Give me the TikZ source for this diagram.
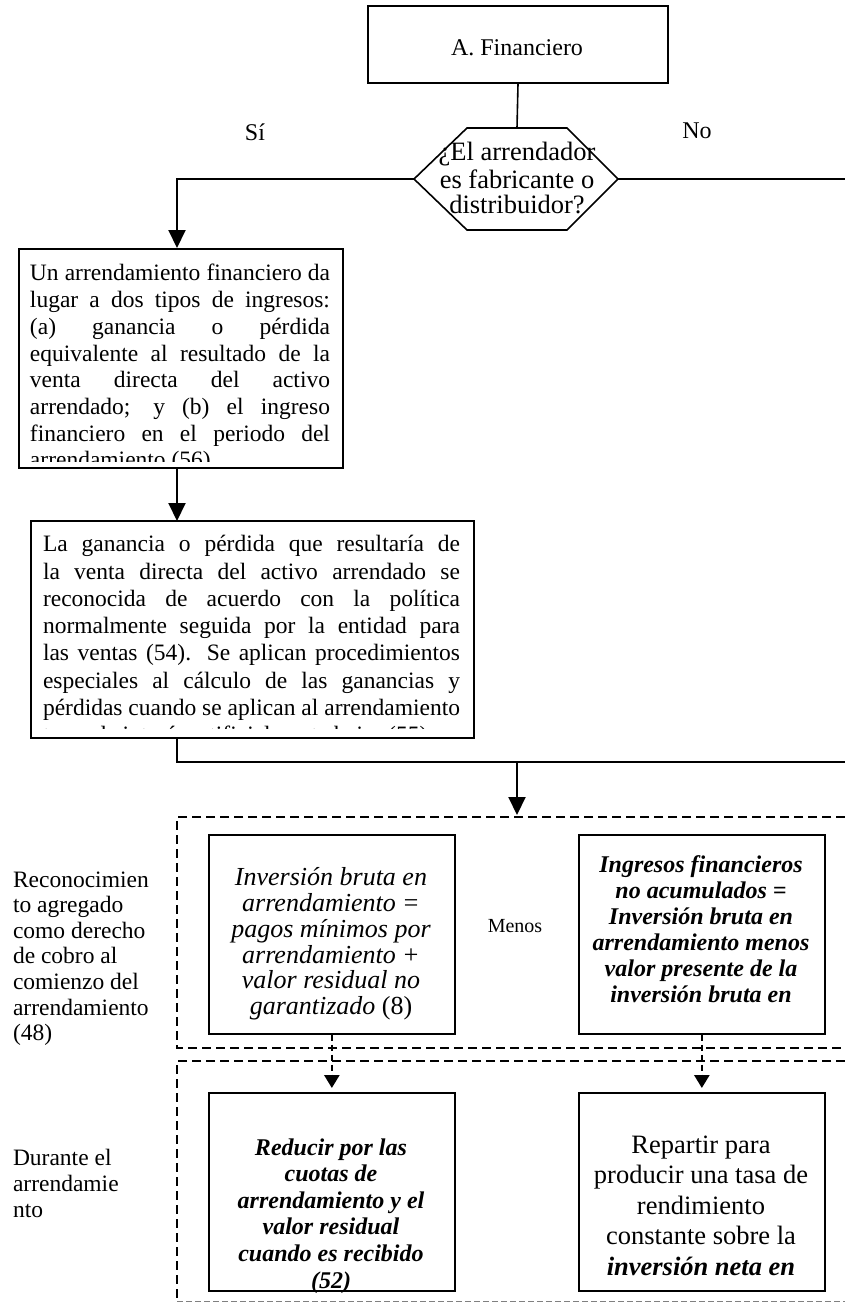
\documentclass[tikz,border=0pt]{standalone}
\usepackage{fontspec}
\setmainfont{Liberation Serif}
\usetikzlibrary{arrows.meta}
\newcommand{\fsz}[2]{\fontsize{#1}{#2}\selectfont}
\newlength{\jw}
\newcommand{\jl}[1]{\makebox[\jw][s]{#1}}
\tikzset{
  box/.style={draw, line width=2pt, inner sep=0pt, anchor=north west},
  lbox/.style={draw, line width=1.7pt, inner sep=0pt, anchor=north west},
  txt/.style={inner sep=0pt, outer sep=0pt},
  conn/.style={line width=2pt},
  thinl/.style={line width=1.6pt},
  arr/.style={line width=2pt, -{Triangle[length=18pt,width=17pt]}},
  dline/.style={line width=2.6pt, dash pattern=on 9pt off 5pt},
  darr/.style={line width=2.6pt, dash pattern=on 6pt off 4pt, -{Triangle[length=13pt,width=15pt]}},
}
\begin{document}
\begin{tikzpicture}[x=1pt,y=-1pt]
\path[use as bounding box] (0,0) rectangle (845,1302);
% coordinates
\coordinate (lx) at (177,0);
\coordinate (hexT) at (517,128);
\coordinate (hexL) at (414,179);
\coordinate (hexR) at (618,179);
\coordinate (edgeR) at (845,179);
\coordinate (j1) at (177,762);
\coordinate (j2) at (517,762);
\coordinate (je) at (845,762);
\coordinate (r1top) at (517,817);

% top box
\node[box, minimum width=300pt, minimum height=77pt] (fin) at (367,5) {};
\node[txt, anchor=base, font=\fsz{24}{26}] (fint) at (517,55) {A. Financiero};
\draw[thinl] (fin.south) -- (hexT);

% hexagon
\draw[thinl] (467,128) -- (567,128) -- (hexR) -- (567,230) -- (467,230) -- (hexL) -- cycle;
\node[txt, anchor=north, align=center, font=\fsz{26.5}{25}] (q) at (517,142.5)
  {\strut¿El arrendador\\es fabricante o\\distribuidor?};
\node[txt, anchor=base, font=\fsz{24}{26}] (si) at (255,140) {Sí};
\node[txt, anchor=base, font=\fsz{24}{26}] (no) at (697,138) {No};
\draw[thinl] (hexR) -- (edgeR);

% box 1
\node[box, minimum width=324pt, minimum height=219pt] (b1) at (18,248) {};
\begin{scope}
\clip (18,248) rectangle (342,461);
\setlength{\jw}{300pt}
\node[txt, anchor=north west, align=left, font=\fsz{23.5}{26.7}] (b1t) at (30,262.3)
  {\strut\jl{Un arrendamiento financiero da}\\
   \jl{lugar a dos tipos de ingresos:}\\
   \jl{(a) ganancia o pérdida}\\
   \jl{equivalente al resultado de la}\\
   \jl{venta directa del activo}\\
   \jl{arrendado; y (b) el ingreso}\\
   \jl{financiero en el periodo del}\\
   arrendamiento (56).};
\end{scope}

% box 2
\node[box, minimum width=443pt, minimum height=217pt] (b2) at (30,520) {};
\begin{scope}
\clip (30,520) rectangle (473,728);
\setlength{\jw}{417pt}
\node[txt, anchor=north west, align=left, font=\fsz{23.5}{27.3}] (b2t) at (43,532.6)
  {\strut\jl{La ganancia o pérdida que resultaría de}\\
   \jl{la venta directa del activo arrendado se}\\
   \jl{reconocida de acuerdo con la política}\\
   \jl{normalmente seguida por la entidad para}\\
   \jl{las ventas (54). Se aplican procedimientos}\\
   \jl{especiales al cálculo de las ganancias y}\\
   \jl{pérdidas cuando se aplican al arrendamiento}\\
   tasas de interés artificialmente bajas (55).};
\end{scope}

% connectors upper
\draw[arr] (hexL) -| (b1.north -| lx);
\draw[arr] (b1.south -| lx) -- ([yshift=-1pt]b2.north -| lx);
\draw[conn] (b2.south -| lx) -- (j1) -- (je);
\draw[arr] (j2) -- ([yshift=2pt]r1top);

% dashed regions
\draw[dline] (845,817) -- (177,817) -- (177,1048) -- (845,1048);
\draw[dline] (845,1061) -- (177,1061) -- (177,1301);
\draw[gray, line width=1pt, dash pattern=on 6pt off 3pt] (177,1301) -- (845,1301);

% labels
\node[txt, anchor=north west, align=left, font=\fsz{23.5}{25.6}] (lab1) at (13,869.1)
  {\strut Reconocimien\\to agregado\\como derecho\\de cobro al\\comienzo del\\arrendamiento\\(48)};
\node[txt, anchor=north west, align=left, font=\fsz{23.5}{26}] (lab2) at (13,1146.8)
  {\strut Durante el\\arrendamie\\nto};
\node[txt, anchor=base, font=\fsz{20}{22}] (menos) at (515,932) {Menos};

% lower boxes
\node[lbox, minimum width=246pt, minimum height=199pt] (lb1) at (208,834) {};
\node[lbox, minimum width=246pt, minimum height=199pt] (rb1) at (578,834) {};
\node[lbox, minimum width=246pt, minimum height=198pt] (lb2) at (208,1092) {};
\node[lbox, minimum width=246pt, minimum height=198pt] (rb2) at (578,1092) {};

\node[txt, anchor=north, align=center, font=\fsz{26}{25.6}\itshape] (lb1t) at (331,867.1)
  {\strut Inversión bruta en\\arrendamiento =\\pagos mínimos por\\arrendamiento +\\valor residual no\\garantizado \textup{(8)}};
\node[txt, anchor=north, align=center, font=\fsz{24}{26}\bfseries\itshape] (rb1t) at (701,853.8)
  {\strut Ingresos financieros\\no acumulados =\\Inversión bruta en\\arrendamiento menos\\valor presente de la\\inversión bruta en};
\node[txt, anchor=north, align=center, font=\fsz{24}{26.6}\bfseries\itshape] (lb2t) at (331,1136.4)
  {\strut Reducir por las\\cuotas de\\arrendamiento y el\\valor residual\\cuando es recibido\\(52)};
\node[txt, anchor=north, align=center, font=\fsz{26.5}{30.5}] (rb2t) at (701,1131.65)
  {\strut Repartir para\\producir una tasa de\\rendimiento\\constante sobre la\\\textbf{\textit{inversión neta en}}};

\draw[darr, shorten >=4pt] (lb1.south) -- (lb2.north);
\draw[darr, shorten >=4pt] (rb1.south) -- (rb2.north);
\end{tikzpicture}
\end{document}
